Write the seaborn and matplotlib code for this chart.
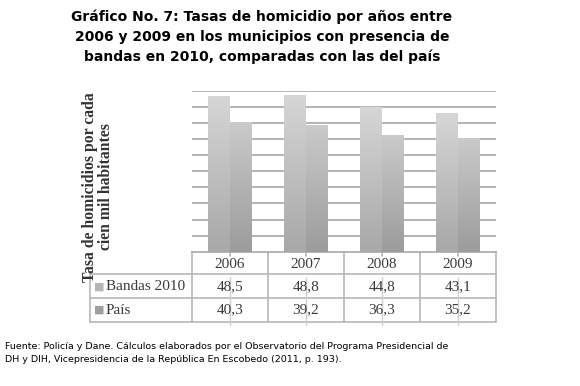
import numpy as np
import pandas as pd
import matplotlib
matplotlib.use('Agg')
import matplotlib.pyplot as plt
import seaborn as sns
from matplotlib.colors import LinearSegmentedColormap

# Datos
anios = ['2006', '2007', '2008', '2009']
bandas_2010 = [48.5, 48.8, 44.8, 43.1]
pais = [40.3, 39.2, 36.3, 35.2]
series = ['Bandas 2010', 'País']

df = pd.DataFrame({
    'Año': anios * 2,
    'Tasa': bandas_2010 + pais,
    'Serie': [series[0]] * 4 + [series[1]] * 4,
})

sns.set_style('white')
W, H = 580, 386
fig = plt.figure(figsize=(W / 100, H / 100), dpi=100)

# área del gráfico en píxeles
px_l, px_r, px_t, px_b = 192, 496, 90.7, 251.7
ax = fig.add_axes([px_l / W, 1 - px_b / H, (px_r - px_l) / W, (px_b - px_t) / H])

sns.barplot(data=df, x='Año', y='Tasa', hue='Serie', hue_order=series,
            palette=['#c8c8c8', '#bcbcbc'], width=0.57, gap=0,
            saturation=1, ax=ax, legend=False, zorder=3)

ax.set_ylim(0, 50)
ax.set_xlim(-0.5, 3.5)
ax.set_yticks(np.arange(5, 51, 5))
ax.yaxis.grid(True, color='#b4b4b4', lw=1.4, zorder=0)
ax.set_yticklabels([])
ax.tick_params(left=False, bottom=False)
ax.set_xticklabels([])
ax.set_xlabel('')
ax.set_ylabel('')
for s in ['left', 'right', 'top']:
    ax.spines[s].set_visible(False)
ax.spines['bottom'].set_color('#a8a8a8')
ax.spines['bottom'].set_linewidth(1.2)

# degradado vertical en las barras
grad_cols = {0: ('#d6d6d6', '#a8a8a8'), 1: ('#cacaca', '#9c9c9c')}
n = len(anios)
for i, bar in enumerate(ax.patches[:2 * n]):
    top_c, bot_c = grad_cols[i // n]
    cmap = LinearSegmentedColormap.from_list('g', [bot_c, top_c])
    x0, y0 = bar.get_x(), bar.get_y()
    w, h = bar.get_width(), bar.get_height()
    grad = np.linspace(0, 1, 100).reshape(-1, 1)
    im = ax.imshow(grad, cmap=cmap, aspect='auto', origin='lower',
                   extent=[x0, x0 + w, y0, y0 + h], zorder=4)
    im.set_clip_path(bar)
    bar.set_edgecolor('none')
ax.set_xlim(-0.5, 3.5)
ax.set_ylim(0, 50)

# tabla de datos
def fy(py):
    return (px_b - py) / (px_b - px_t)

trans = ax.get_xaxis_transform()
line_c = '#b8b8b8'
x_lab = (90 - px_l) / 76 - 0.5
rows_y = [251.7, 274, 298, 322]
for yy in rows_y[1:]:
    ax.plot([x_lab, 3.5], [fy(yy)] * 2, color=line_c, lw=1.2,
            transform=trans, clip_on=False)
ax.plot([x_lab, x_lab], [fy(274), fy(322)], color=line_c, lw=1.2,
        transform=trans, clip_on=False)
for xb in np.arange(-0.5, 3.6, 1):
    ax.plot([xb, xb], [fy(251.7), fy(322)], color=line_c, lw=1.2,
            transform=trans, clip_on=False)
for xc in range(n):
    ax.plot([xc, xc], [fy(251.7), fy(256)], color=line_c, lw=1.2,
            transform=trans, clip_on=False)
    ax.plot([xc, xc], [fy(277), fy(325)], color='#cfcfcf', lw=1.0,
            transform=trans, clip_on=False)

serif = 'Liberation Serif'
txt_c = '#3a3a3a'
for i, a in enumerate(anios):
    ax.text(i, fy(264), a, ha='center', va='center', fontsize=11,
            family=serif, color=txt_c, transform=trans)
    ax.text(i, fy(287), f'{bandas_2010[i]:.1f}'.replace('.', ','),
            ha='center', va='center', fontsize=11, family=serif,
            color=txt_c, transform=trans)
    ax.text(i, fy(310), f'{pais[i]:.1f}'.replace('.', ','),
            ha='center', va='center', fontsize=11, family=serif,
            color=txt_c, transform=trans)

key_cols = ['#b4b4b4', '#9e9e9e']
for j, (lab, yy) in enumerate(zip(series, [287, 310])):
    fig.text(94 / W, 1 - yy / H, '■', ha='left', va='center', fontsize=8,
             color=key_cols[j], family='DejaVu Sans')
    fig.text(106 / W, 1 - yy / H, lab, ha='left', va='center',
             fontsize=11, family=serif, color=txt_c)

# etiqueta del eje y
fig.text(98 / W, 1 - 187 / H,
         'Tasa de homicidios por cada\ncien mil habitantes',
         rotation=90, ha='center', va='center', fontsize=11.3,
         fontweight='bold', family=serif, color='#333333',
         linespacing=1.0)

# título
fig.text(262 / W, 1 - 37 / H,
         'Gráfico No. 7: Tasas de homicidio por años entre\n'
         '2006 y 2009 en los municipios con presencia de\n'
         'bandas en 2010, comparadas con las del país',
         ha='center', va='center', fontsize=10.0, fontweight='bold',
         family='DejaVu Sans', color='black', linespacing=1.5)

# fuente
fig.text(5 / W, 1 - 353 / H,
         'Fuente: Policía y Dane. Cálculos elaborados por el Observatorio del Programa Presidencial de\n'
         'DH y DIH, Vicepresidencia de la República En Escobedo (2011, p. 193).',
         ha='left', va='center', fontsize=6.8, family='DejaVu Sans',
         color='black', linespacing=1.7)

fig.savefig('out.png', dpi=100)
